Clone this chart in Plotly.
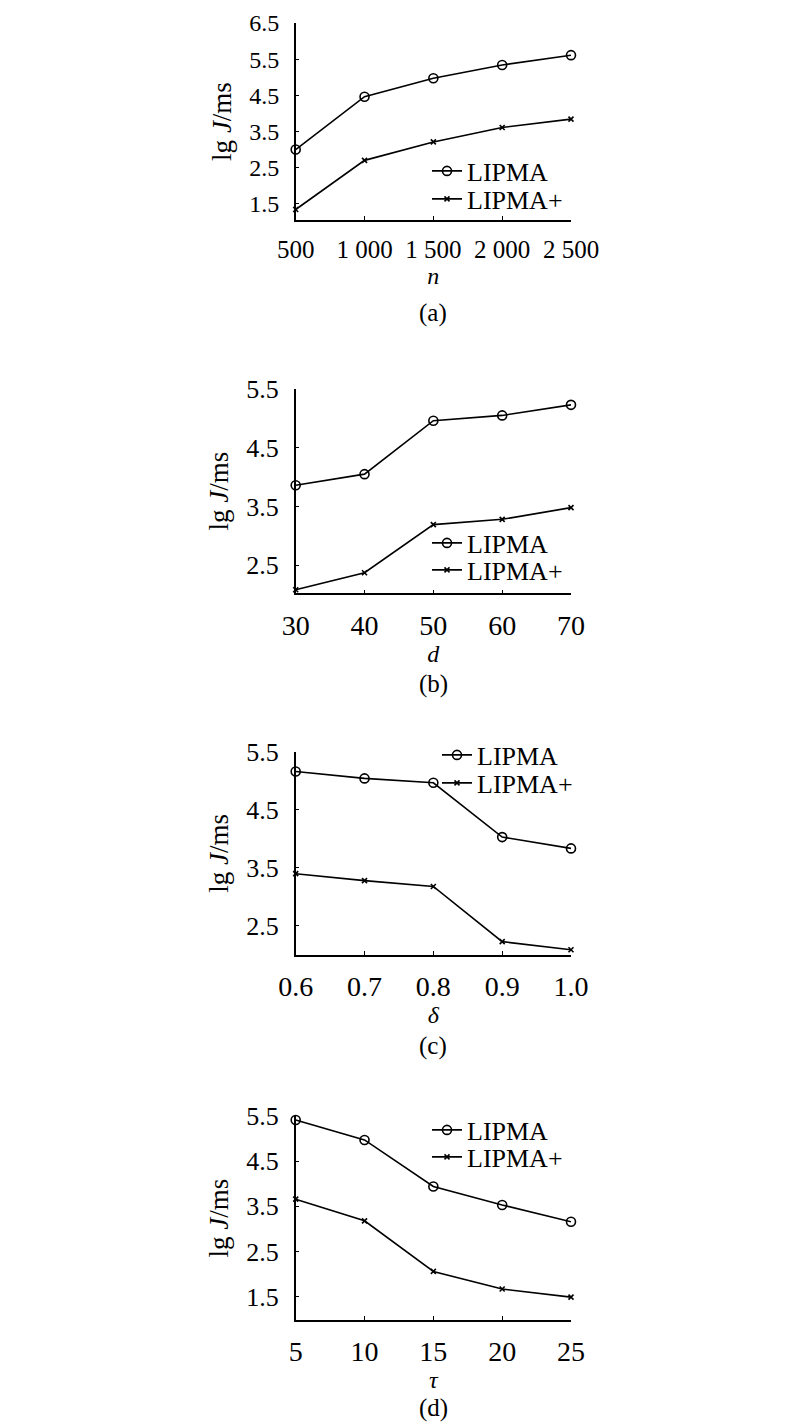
import plotly.graph_objects as go

FONT = "Liberation Serif"

# Panel (a)
n_vals = [500, 1000, 1500, 2000, 2500]
n_ticklabels = ["500", "1 000", "1 500", "2 000", "2 500"]
a_lipma = [3.0, 4.46, 4.97, 5.34, 5.61]
a_lipma_plus = [1.34, 2.70, 3.21, 3.61, 3.84]

# Panel (b)
d_vals = [30, 40, 50, 60, 70]
b_lipma = [3.86, 4.05, 4.96, 5.05, 5.23]
b_lipma_plus = [2.08, 2.37, 3.19, 3.28, 3.48]

# Panel (c)
delta_vals = [0.6, 0.7, 0.8, 0.9, 1.0]
delta_ticklabels = ["0.6", "0.7", "0.8", "0.9", "1.0"]
c_lipma = [5.16, 5.04, 4.965, 4.03, 3.835]
c_lipma_plus = [3.40, 3.28, 3.18, 2.23, 2.09]

# Panel (d)
tau_vals = [5, 10, 15, 20, 25]
d_lipma = [5.41, 4.97, 3.94, 3.53, 3.16]
d_lipma_plus = [3.66, 3.18, 2.06, 1.67, 1.49]

series_names = ["LIPMA", "LIPMA+"]

panels = [
    dict(x=n_vals, ys=[a_lipma, a_lipma_plus], xt="<i>n</i>", cap="(a)",
         ticktext=n_ticklabels, yrange=[1.05, 6.5], yticks=[1.5, 2.5, 3.5, 4.5, 5.5, 6.5],
         xrange=[500, 2500], xfont=25),
    dict(x=d_vals, ys=[b_lipma, b_lipma_plus], xt="<i>d</i>", cap="(b)",
         ticktext=[str(v) for v in d_vals], yrange=[2.02, 5.5], yticks=[2.5, 3.5, 4.5, 5.5],
         xrange=[30, 70], xfont=28),
    dict(x=delta_vals, ys=[c_lipma, c_lipma_plus], xt="<i>δ</i>", cap="(c)",
         ticktext=delta_ticklabels, yrange=[2.0, 5.5], yticks=[2.5, 3.5, 4.5, 5.5],
         xrange=[0.6, 1.0], xfont=28),
    dict(x=tau_vals, ys=[d_lipma, d_lipma_plus], xt="<i>τ</i>", cap="(d)",
         ticktext=[str(v) for v in tau_vals], yrange=[0.985, 5.5], yticks=[1.5, 2.5, 3.5, 4.5, 5.5],
         xrange=[5, 25], xfont=28),
]

W, H = 800, 1428
OFF = 8  # page body margin of the html page
x_dom = [(295.7 - OFF) / W, (571.0 - OFF) / W]
y_px = [(23.0, 220.0), (389.0, 593.3), (751.7, 955.0), (1116.0, 1320.0)]
# legend: text-left x, row1 y, row2 y (page px)
legend_rows = [(467, 171, 199), (467, 543, 570), (477, 755, 783), (467, 1130, 1157)]
cap_y = [313, 684, 1046, 1408]

fig = go.Figure()
symbols = ["circle-open", "x-thin-open"]
msize = [9, 5]

layout = dict(
    width=W, height=H, margin=dict(l=0, r=0, t=0, b=0, autoexpand=False),
    paper_bgcolor="white", plot_bgcolor="white",
    font=dict(family=FONT, color="black", size=26),
    annotations=[], showlegend=True,
)

leg_idx = 0
for i, p in enumerate(panels):
    k = "" if i == 0 else str(i + 1)
    lx, r1, r2 = legend_rows[i]
    for j, name in enumerate(series_names):
        leg_idx += 1
        leg = "legend" if leg_idx == 1 else f"legend{leg_idx}"
        fig.add_trace(go.Scatter(
            x=p["x"], y=p["ys"][j], name=name, mode="lines+markers",
            line=dict(color="black", width=1.6),
            marker=dict(symbol=symbols[j], size=msize[j], color="black",
                        line=dict(width=1.6, color="black")),
            xaxis="x" + k, yaxis="y" + k, legend=leg, cliponaxis=False,
        ))
        ry = r1 if j == 0 else r2
        layout[leg] = dict(
            x=(lx - 40 - OFF) / W, y=1 - (ry - OFF) / H, xanchor="left", yanchor="middle",
            bgcolor="rgba(0,0,0,0)", borderwidth=0, tracegroupgap=0,
            font=dict(size=26, family=FONT, color="black"), itemwidth=30,
        )
    top, bot = y_px[i]
    layout["xaxis" + k] = dict(
        domain=x_dom, range=p["xrange"], anchor="y" + k, automargin=False,
        tickvals=p["x"], ticktext=p["ticktext"],
        showline=True, linecolor="black", linewidth=1.5,
        ticks="inside", ticklen=4, tickwidth=1.3, tickcolor="black",
        showgrid=False, zeroline=False, ticklabeloverflow="allow",
        tickfont=dict(size=p["xfont"], family=FONT),
        ticklabelstandoff=6,
        title=dict(text=p["xt"], font=dict(size=24, family=FONT), standoff=0),
    )
    layout["yaxis" + k] = dict(
        domain=[1 - (bot - OFF) / H, 1 - (top - OFF) / H], range=p["yrange"], anchor="x" + k,
        automargin=False,
        tickvals=p["yticks"], ticktext=[f"{v:.1f}" for v in p["yticks"]],
        showline=True, linecolor="black", linewidth=1.5,
        ticks="inside", ticklen=4, tickwidth=1.3, tickcolor="black",
        showgrid=False, zeroline=False, ticklabeloverflow="allow",
        tickfont=dict(size=24 if i == 0 else 26, family=FONT),
        ticklabelstandoff=10,
        title=dict(text="lg <i>J</i>/ms", font=dict(size=27, family=FONT), standoff=10),
    )
    layout["annotations"].append(dict(
        text=p["cap"], xref="paper", yref="paper",
        x=(x_dom[0] + x_dom[1]) / 2, y=1 - (cap_y[i] - OFF) / H,
        xanchor="center", yanchor="middle", showarrow=False,
        font=dict(size=25, family=FONT),
    ))

fig.update_layout(**layout)
fig.write_html("out.html")
